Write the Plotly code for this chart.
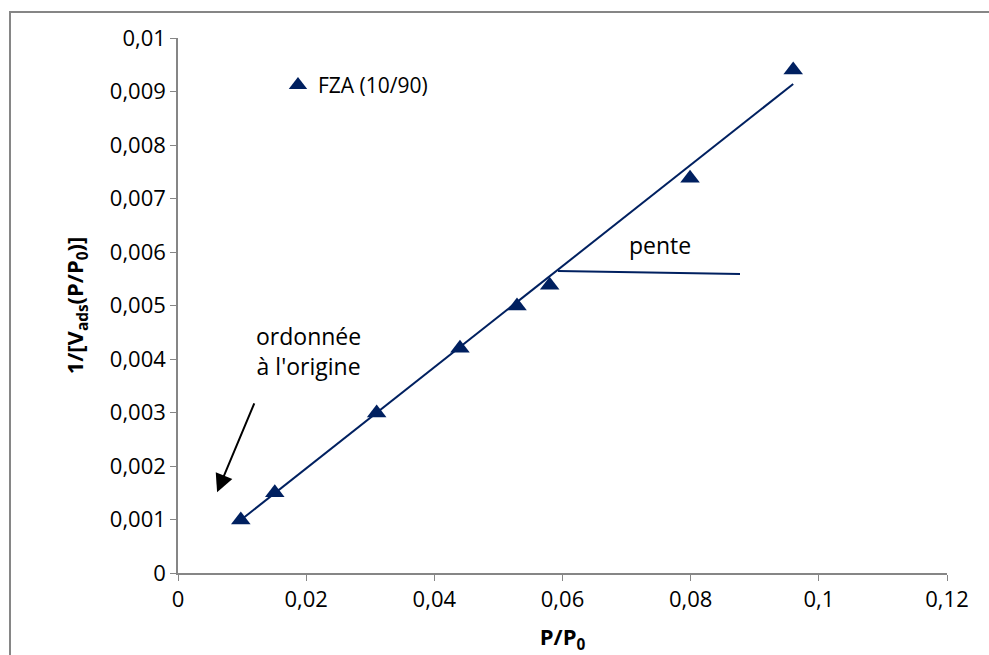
import plotly.graph_objects as go

# Data
x_vals = [0.0098, 0.0151, 0.0310, 0.0440, 0.0529, 0.0580, 0.0799, 0.0960]
y_vals = [0.00099, 0.0015, 0.00299, 0.0042, 0.00499, 0.00538, 0.00738, 0.0094]
trend_x = [0.0098, 0.0960]
trend_y = [0.00099, 0.00914]
series_name = "FZA (10/90)"

x_ticks = [0, 0.02, 0.04, 0.06, 0.08, 0.1, 0.12]
x_ticktext = ["0", "0,02", "0,04", "0,06", "0,08", "0,1", "0,12"]
y_ticks = [0, 0.001, 0.002, 0.003, 0.004, 0.005, 0.006, 0.007, 0.008, 0.009, 0.01]
y_ticktext = ["0", "0,001", "0,002", "0,003", "0,004", "0,005", "0,006", "0,007", "0,008", "0,009", "0,01"]

navy = "#002060"
font_fam = "'Open Sans', sans-serif"

fig = go.Figure()
fig.add_trace(go.Scatter(x=trend_x, y=trend_y, mode="lines",
                         line=dict(color=navy, width=2), showlegend=False, hoverinfo="skip"))
fig.add_trace(go.Scatter(x=x_vals, y=y_vals, mode="markers", name=series_name,
                         marker=dict(symbol="triangle-up", size=17, color=navy)))

axis_common = dict(showgrid=False, zeroline=False, showline=True, linecolor="#868686", linewidth=1.5,
                   ticks="outside", ticklen=6, tickcolor="#868686", automargin=False,
                   tickfont=dict(family=font_fam, size=22, color="#000"))

fig.update_xaxes(range=[0, 0.12], tickvals=x_ticks, ticktext=x_ticktext,
                 title=dict(text="<b>P/P<sub>0</sub></b>", font=dict(family=font_fam, size=22, color="#000"), standoff=20),
                 **axis_common)
fig.update_yaxes(range=[0, 0.01], tickvals=y_ticks, ticktext=y_ticktext,
                 title=dict(text="<b>1/[V<sub>ads</sub>(P/P<sub>0</sub>)]</b>", font=dict(family=font_fam, size=22, color="#000"), standoff=20),
                 **axis_common)

# pente line
fig.add_shape(type="line", xref="x", yref="y", x0=0.0593, y0=0.005645, x1=0.0877, y1=0.005589,
              line=dict(color=navy, width=2))
fig.add_annotation(x=0.0752, y=0.00613, xref="x", yref="y", text="pente", showarrow=False,
                   font=dict(family=font_fam, size=23, color="#000"))
fig.add_annotation(x=0.0203, y=0.00415, xref="x", yref="y", text="ordonnée<br>à l'origine", showarrow=False,
                   font=dict(family=font_fam, size=23, color="#000"))
fig.add_annotation(x=0.0061, y=0.00151, ax=0.0120, ay=0.0032, xref="x", yref="y", axref="x", ayref="y",
                   text="", showarrow=True, arrowhead=2, arrowsize=1.8, arrowwidth=2, arrowcolor="#000")

# outer frame
fig.add_shape(type="rect", xref="paper", yref="paper",
              x0=(10 - 178) / 769, x1=1.2, y0=-0.3, y1=(573 - 12) / 535,
              line=dict(color="#868686", width=2), fillcolor="rgba(0,0,0,0)", layer="below")

fig.update_layout(
    width=989, height=655,
    margin=dict(l=178, r=42, t=38, b=82),
    paper_bgcolor="white", plot_bgcolor="white",
    legend=dict(x=0.13, y=0.95, xanchor="left", yanchor="top", bgcolor="rgba(0,0,0,0)",
                font=dict(family=font_fam, size=21, color="#000"), itemwidth=30),
    showlegend=True,
)

fig.write_html("out.html")
